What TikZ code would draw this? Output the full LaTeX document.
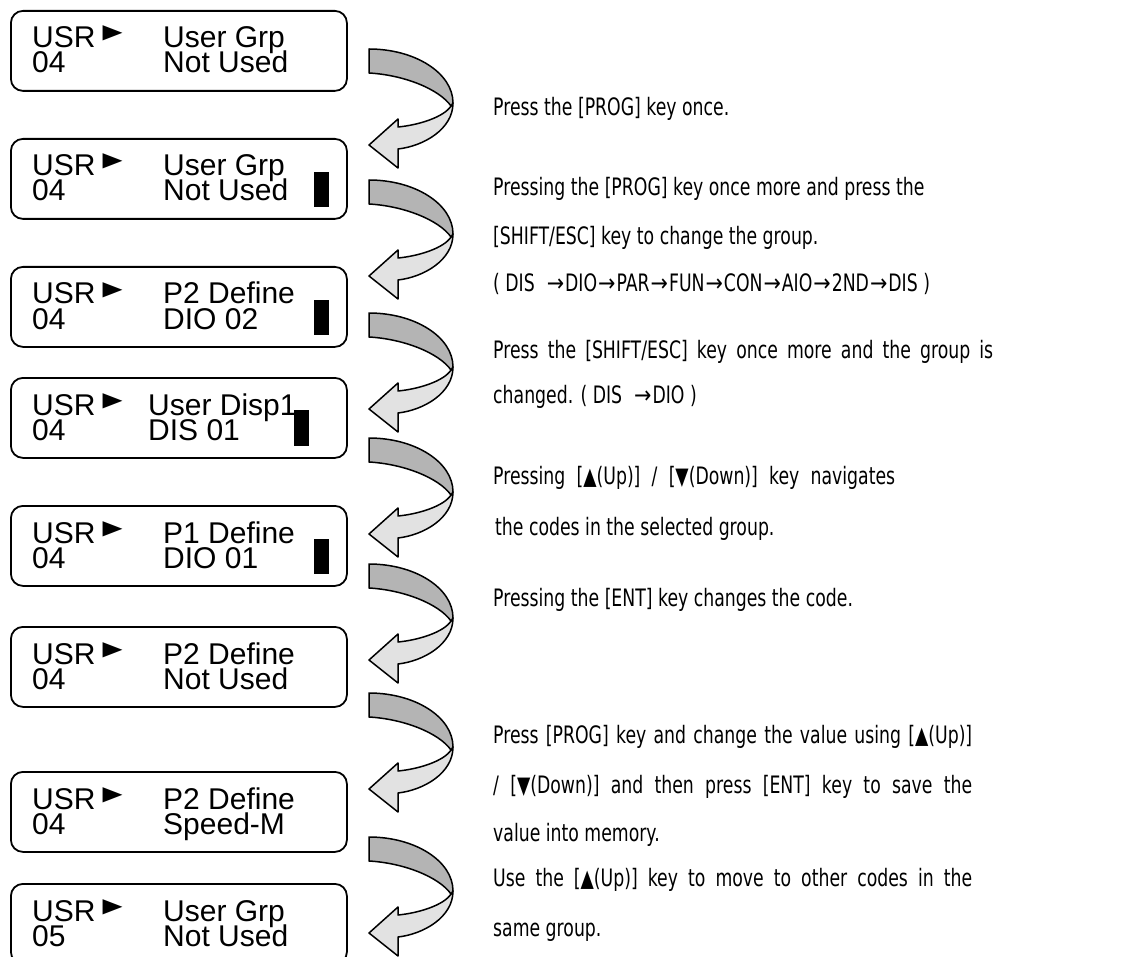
\documentclass[tikz,border=0pt]{standalone}
\usepackage{fontspec}
\setmainfont{Liberation Sans}
\newfontfamily\lcdfont{Liberation Sans}
\newfontfamily\symfont{DejaVu Sans}
\newfontfamily\descfont[FakeStretch=0.72]{DejaVu Sans}
\definecolor{ribbonDark}{RGB}{180, 180, 180}
\definecolor{ribbonLight}{RGB}{226, 226, 226}
\usetikzlibrary{calc}

\newcommand{\usrmark}{\hspace{7pt}\smash{\raisebox{9pt}{\scalebox{1.3}[1]{\fontsize{20}{20}\symfont ▶}}}}
\newcommand{\grpto}{\hspace{1pt}\scalebox{1.2}[1]{→}\hspace{1pt}}

\begin{document}
\begin{tikzpicture}[
    x=1pt, y=-1pt,
    lcdbox/.style={rectangle, draw, line width=1.8pt, rounded corners=12pt,
                   minimum width=336pt, minimum height=80pt,
                   inner sep=0pt, anchor=north west},
    lcdtext/.style={anchor=base west, inner sep=0pt,
                    font={\fontsize{30}{25}\lcdfont}},
    cursor/.style={fill=black},
    ribbon/.style={draw=black, line width=1.5pt, line join=round},
    desc/.style={anchor=base west, inner sep=0pt,
                 font={\fontsize{24}{24}\descfont}},
    curl/.pic={
      \filldraw[ribbon, fill=ribbonLight] (84,54) .. controls (84,80) and (55,97) .. (29,100)
        -- (29,119) -- (0,96) -- (29,70) -- (29,78)
        .. controls (50,76) and (75,68) .. (82,57) -- cycle;
      \filldraw[ribbon, fill=ribbonDark] (0,0) -- (0,24)
        .. controls (35,26) and (70,40) .. (82,57) -- (84,54)
        .. controls (84,24) and (46,0) .. (0,0) -- cycle;
    },
  ]
    \useasboundingbox (0,0) rectangle (1123,957);

    % displays
    \node[lcdbox] (s1) at (10,10) {};
    \node[lcdbox] (s2) at (10,138) {};
    \node[lcdbox] (s3) at (10,266) {};
    \node[lcdbox] (s4) at (10,377) {};
    \node[lcdbox] (s5) at (10,505) {};
    \node[lcdbox] (s6) at (10,626) {};
    \node[lcdbox] (s7) at (10,771) {};
    \node[lcdbox] (s8) at (10,883) {};

    \node[lcdtext] (t1a) at ($(s1.north west)+(22,38)$) {\makebox[131pt][l]{USR\usrmark}User Grp};
    \node[lcdtext] (t1b) at ($(s1.north west)+(22,63)$) {\makebox[131pt][l]{04}Not Used};
    \node[lcdtext] (t2a) at ($(s2.north west)+(22,38)$) {\makebox[131pt][l]{USR\usrmark}User Grp};
    \node[lcdtext] (t2b) at ($(s2.north west)+(22,63)$) {\makebox[131pt][l]{04}Not Used};
    \node[lcdtext] (t3a) at ($(s3.north west)+(22,38)$) {\makebox[131pt][l]{USR\usrmark}P2 Define};
    \node[lcdtext] (t3b) at ($(s3.north west)+(22,63)$) {\makebox[131pt][l]{04}DIO 02};
    \node[lcdtext] (t4a) at ($(s4.north west)+(22,38)$) {\makebox[116pt][l]{USR\usrmark}User Disp1};
    \node[lcdtext] (t4b) at ($(s4.north west)+(22,63)$) {\makebox[116pt][l]{04}DIS 01};
    \node[lcdtext] (t5a) at ($(s5.north west)+(22,38)$) {\makebox[131pt][l]{USR\usrmark}P1 Define};
    \node[lcdtext] (t5b) at ($(s5.north west)+(22,63)$) {\makebox[131pt][l]{04}DIO 01};
    \node[lcdtext] (t6a) at ($(s6.north west)+(22,38)$) {\makebox[131pt][l]{USR\usrmark}P2 Define};
    \node[lcdtext] (t6b) at ($(s6.north west)+(22,63)$) {\makebox[131pt][l]{04}Not Used};
    \node[lcdtext] (t7a) at ($(s7.north west)+(22,38)$) {\makebox[131pt][l]{USR\usrmark}P2 Define};
    \node[lcdtext] (t7b) at ($(s7.north west)+(22,63)$) {\makebox[131pt][l]{04}Speed-M};
    \node[lcdtext] (t8a) at ($(s8.north west)+(22,38)$) {\makebox[131pt][l]{USR\usrmark}User Grp};
    \node[lcdtext] (t8b) at ($(s8.north west)+(22,63)$) {\makebox[131pt][l]{05}Not Used};

    % blinking cursors
    \fill[cursor] ($(s2.north east)+(-34,34)$) rectangle ++(15,35);
    \fill[cursor] ($(s3.north east)+(-34,34)$) rectangle ++(15,35);
    \fill[cursor] ($(s4.north east)+(-54,33)$) rectangle ++(15,36);
    \fill[cursor] ($(s5.north east)+(-34,34)$) rectangle ++(15,35);

    % curled arrows
    \pic at (369,49) {curl};
    \pic at (369,180) {curl};
    \pic at (369,313) {curl};
    \pic at (369,438) {curl};
    \pic at (369,564) {curl};
    \pic at (369,693) {curl};
    \pic at (369,837) {curl};

    % explanations
    \node[desc] (d1) at (493,116) {Press the [PROG] key once.};
    \node[desc] (d2) at (493,196) {Pressing the [PROG] key once more and press the};
    \node[desc] (d3) at (493,245) {[SHIFT/ESC] key to change the group.};
    \node[desc] (d4) at (493,291) {( DIS \ \grpto DIO\grpto PAR\grpto FUN\grpto CON\grpto AIO\grpto 2ND\grpto DIS )};
    \node[desc] (d5) at (493,358) {\makebox[500pt][s]{Press the [SHIFT/ESC] key once more and the group is}};
    \node[desc] (d6) at (493,403) {changed. ( DIS \ \grpto DIO )};
    \node[desc] (d7) at (493,484) {\makebox[402pt][s]{Pressing [▲(Up)] / [▼(Down)] key navigates}};
    \node[desc] (d8) at (495,535) {the codes in the selected group.};
    \node[desc] (d9) at (493,606) {Pressing the [ENT] key changes the code.};
    \node[desc] (d10) at (493,743) {\makebox[479pt][s]{Press [PROG] key and change the value using [▲(Up)]}};
    \node[desc] (d11) at (493,793) {\makebox[479pt][s]{/ [▼(Down)] and then press [ENT] key to save the}};
    \node[desc] (d12) at (493,841) {value into memory.};
    \node[desc] (d13) at (493,886) {\makebox[479pt][s]{Use the [▲(Up)] key to move to other codes in the}};
    \node[desc] (d14) at (493,936) {same group.};
  \end{tikzpicture}
\end{document}
